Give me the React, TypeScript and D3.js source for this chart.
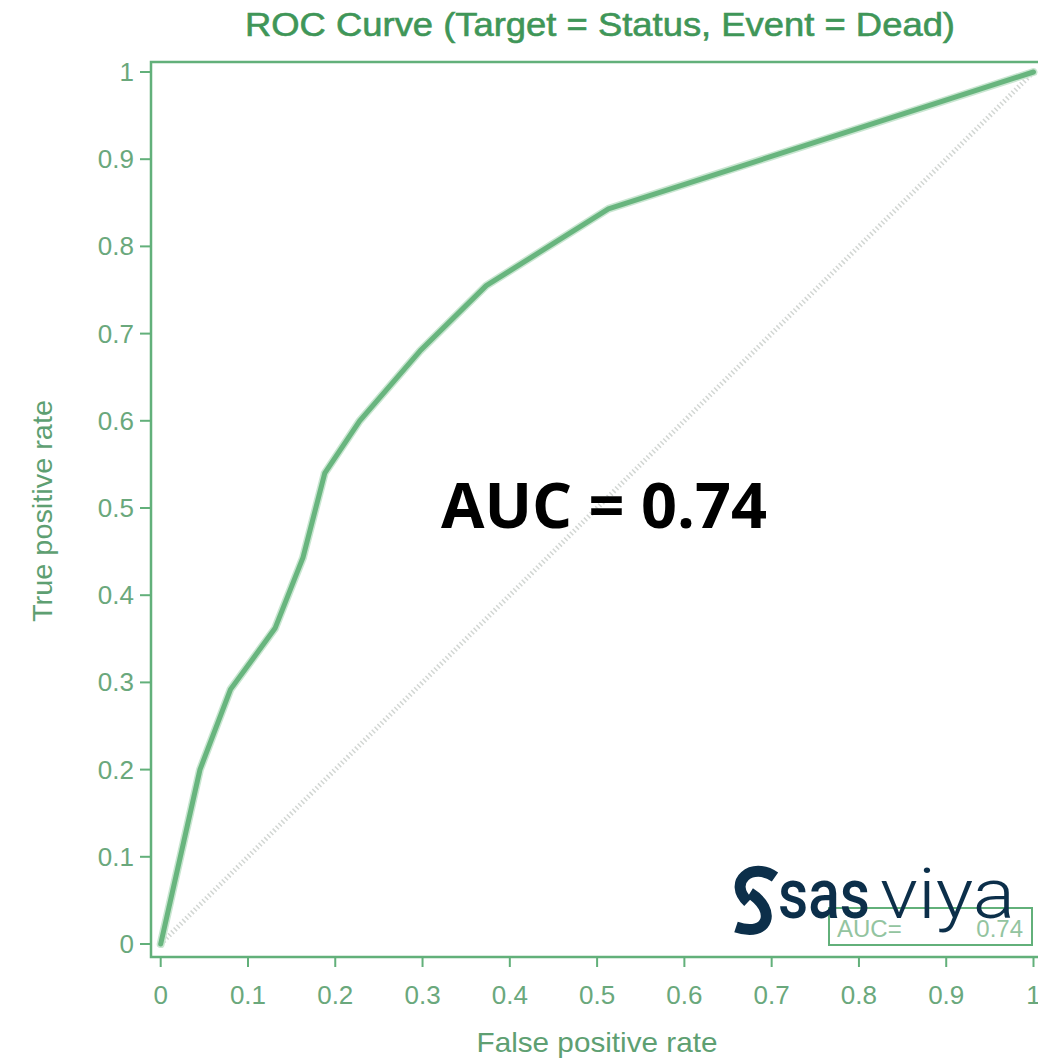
import React from "react";
import * as d3 from "d3";

const rocFpr = [0, 0.045, 0.08, 0.131, 0.163, 0.188, 0.228, 0.297, 0.373, 0.513, 1];
const rocTpr = [0, 0.2, 0.292, 0.362, 0.443, 0.54, 0.6, 0.68, 0.755, 0.843, 1];
const refFpr = [0, 1];
const refTpr = [0, 1];
const xTicks = [0, 0.1, 0.2, 0.3, 0.4, 0.5, 0.6, 0.7, 0.8, 0.9, 1];
const yTicks = [0, 0.1, 0.2, 0.3, 0.4, 0.5, 0.6, 0.7, 0.8, 0.9, 1];
const titleText = "ROC Curve (Target = Status, Event = Dead)";
const xLabel = "False positive rate";
const yLabel = "True positive rate";
const aucValue = "0.74";

const W = 1038;
const H = 1060;

export default function App() {
  const x = d3.scaleLinear().domain([0, 1]).range([160.7, 1033.5]);
  const y = d3.scaleLinear().domain([0, 1]).range([944, 72]);
  const fmt = (v: number) => (v === 0 ? "0" : v === 1 ? "1" : d3.format(".1f")(v));

  const line = d3
    .line<number>()
    .x((_, i) => x(rocFpr[i]))
    .y((_, i) => y(rocTpr[i]));
  const refLine = d3
    .line<number>()
    .x((_, i) => x(refFpr[i]))
    .y((_, i) => y(refTpr[i]));

  const frameL = 151;
  const frameT = 62;
  const frameB = 957;
  const frameR = 1044;

  const green = "#62b07a";
  const tickText = "#6aa87c";
  const font = "'Liberation Sans', Arial, sans-serif";

  return (
    <svg
      width={W}
      height={H}
      style={{ position: "absolute", left: 0, top: 0, display: "block", background: "#fff" }}
    >
      <rect x={0} y={0} width={W} height={H} fill="#ffffff" />
      {/* title */}
      <text
        x={600}
        y={36}
        textAnchor="middle"
        fontFamily={font}
        fontSize={33}
        fill="#3f9658"
        stroke="#3f9658"
        strokeWidth={0.6}
        textLength={710}
        lengthAdjust="spacingAndGlyphs"
      >
        {titleText}
      </text>

      {/* reference diagonal */}
      <path
        d={refLine(refFpr) || ""}
        fill="none"
        stroke="#d2d6d3"
        strokeWidth={5}
        strokeDasharray="1.5 2.5"
      />

      {/* frame */}
      <rect
        x={frameL}
        y={frameT}
        width={frameR - frameL}
        height={frameB - frameT}
        fill="none"
        stroke={green}
        strokeWidth={2.5}
      />

      {/* y ticks */}
      {yTicks.map((t) => (
        <g key={"y" + t}>
          <line x1={frameL - 11} x2={frameL} y1={y(t)} y2={y(t)} stroke={green} strokeWidth={2} />
          <text
            x={134}
            y={y(t) + 9}
            textAnchor="end"
            fontFamily={font}
            fontSize={26}
            fill={tickText}
          >
            {fmt(t)}
          </text>
        </g>
      ))}

      {/* x ticks */}
      {xTicks.map((t) => (
        <g key={"x" + t}>
          <line x1={x(t)} x2={x(t)} y1={frameB} y2={frameB + 10} stroke={green} strokeWidth={2} />
          <text
            x={x(t)}
            y={1004}
            textAnchor="middle"
            fontFamily={font}
            fontSize={26}
            fill={tickText}
          >
            {fmt(t)}
          </text>
        </g>
      ))}

      {/* axis labels */}
      <text
        x={597}
        y={1052}
        textAnchor="middle"
        fontFamily={font}
        fontSize={28}
        fill="#5e9f72"
        textLength={241}
        lengthAdjust="spacingAndGlyphs"
      >
        {xLabel}
      </text>
      <text
        transform="translate(52,511) rotate(-90)"
        textAnchor="middle"
        fontFamily={font}
        fontSize={28}
        fill="#5e9f72"
        textLength={222}
        lengthAdjust="spacingAndGlyphs"
      >
        {yLabel}
      </text>

      {/* ROC curve */}
      <path
        d={line(rocFpr) || ""}
        fill="none"
        stroke="#c9e6d1"
        strokeWidth={8}
        strokeLinejoin="round"
        strokeLinecap="round"
      />
      <path
        d={line(rocFpr) || ""}
        fill="none"
        stroke="#68b57e"
        strokeWidth={5}
        strokeLinejoin="round"
        strokeLinecap="round"
      />

      {/* AUC legend box */}
      <rect x={829} y={908} width={203} height={37} fill="#ffffff" stroke={green} strokeWidth={2} />
      <text x={837} y={937} fontFamily={font} fontSize={24} fill="#93c4a0">
        AUC=
      </text>
      <text x={1023} y={937} textAnchor="end" fontFamily={font} fontSize={24} fill="#93c4a0">
        {aucValue}
      </text>

      {/* big AUC annotation */}
      <text
        x={604}
        y={528}
        textAnchor="middle"
        fontFamily="'Open Sans', 'Noto Sans', sans-serif"
        fontWeight={700}
        fontSize={63}
        fill="#000000"
      >
        {"AUC = " + aucValue}
      </text>

      {/* sas viya logo */}
      <g fill="none" stroke="#0c2f4a" strokeWidth={11} strokeLinecap="butt">
        <path d="M 775 877 C 752 861, 727 882, 748 902" />
        <path d="M 750 893 C 777 910, 769 938, 736 927" />
      </g>
      <text
        x={778}
        y={918}
        fontFamily="Roboto, 'Noto Sans', sans-serif"
        fontWeight={500}
        fontSize={70}
        fill="#0c2f4a"
        textLength={92}
        lengthAdjust="spacingAndGlyphs"
      >
        sas
      </text>
      <text
        x={880}
        y={918}
        fontFamily="Roboto, 'Noto Sans', sans-serif"
        fontWeight={300}
        fontSize={70}
        fill="#0c2f4a"
        textLength={135}
        lengthAdjust="spacingAndGlyphs"
      >
        viya
      </text>
    </svg>
  );
}
